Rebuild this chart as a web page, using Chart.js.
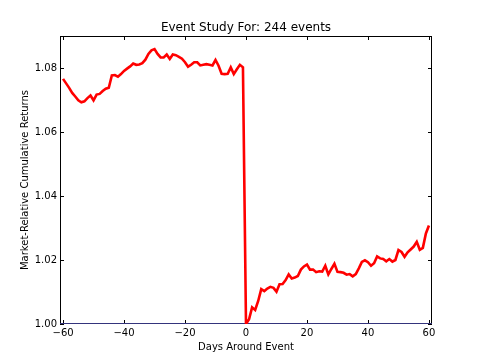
<!DOCTYPE html>
<html>
<head>
<meta charset="utf-8">
<script src="https://cdn.jsdelivr.net/npm/chart.js@4"></script>
<style>
  body { margin: 0; background: #fff; }
  #wrap { width: 480px; height: 360px; }
</style>
</head>
<body>
<div id="wrap"><canvas id="myChart" width="480" height="360"></canvas></div>
<script>
const days = [
  -60, -59, -58, -57, -56, -55, -54, -53, -52, -51, -50, -49, -48, -47, -46, -45, -44, -43, -42, -41,
  -40, -39, -38, -37, -36, -35, -34, -33, -32, -31, -30, -29, -28, -27, -26, -25, -24, -23, -22, -21,
  -20, -19, -18, -17, -16, -15, -14, -13, -12, -11, -10, -9, -8, -7, -6, -5, -4, -3, -2, -1,
  0, 1, 2, 3, 4, 5, 6, 7, 8, 9, 10, 11, 12, 13, 14, 15, 16, 17, 18, 19,
  20, 21, 22, 23, 24, 25, 26, 27, 28, 29, 30, 31, 32, 33, 34, 35, 36, 37, 38, 39,
  40, 41, 42, 43, 44, 45, 46, 47, 48, 49, 50, 51, 52, 53, 54, 55, 56, 57, 58, 59, 60
];

const cumReturns = [
  1.0766, 1.0752, 1.0738, 1.0722, 1.0711, 1.0699, 1.0693, 1.0696, 1.0706, 1.0714,
  1.0699, 1.0717, 1.0719, 1.0728, 1.0735, 1.0738, 1.0777, 1.0778, 1.0773, 1.0781,
  1.0791, 1.0798, 1.0805, 1.0814, 1.0810, 1.0811, 1.0815, 1.0826, 1.0844, 1.0855,
  1.0859, 1.0844, 1.0833, 1.0833, 1.0842, 1.0828, 1.0842, 1.0840, 1.0835, 1.0829,
  1.0818, 1.0804, 1.0810, 1.0818, 1.0818, 1.0808, 1.0810, 1.0812, 1.0810, 1.0808,
  1.0825, 1.0807, 1.0782, 1.0781, 1.0782, 1.0802, 1.0781, 1.0796, 1.0810, 1.0802,
  1.0000, 1.0015, 1.0052, 1.0044, 1.0072, 1.0109, 1.0103, 1.0111, 1.0116, 1.0113,
  1.0101, 1.0124, 1.0125, 1.0137, 1.0155, 1.0142, 1.0145, 1.0150, 1.0170, 1.0180,
  1.0186, 1.0170, 1.0170, 1.0162, 1.0165, 1.0164, 1.0182, 1.0155, 1.0172, 1.0188,
  1.0163, 1.0162, 1.0160, 1.0154, 1.0156, 1.0149, 1.0156, 1.0174, 1.0194, 1.0199,
  1.0193, 1.0182, 1.0190, 1.0211, 1.0205, 1.0203, 1.0196, 1.0203, 1.0195, 1.0200,
  1.0231, 1.0225, 1.0210, 1.0224, 1.0233, 1.0242, 1.0257, 1.0232, 1.0238, 1.0283, 1.0308
];

// horizontal reference line at 1.0
const baseX = [-61, 61];
const baseY = [1.0, 1.0];

const xTicks = [-60, -40, -20, 0, 20, 40, 60];
const yTicks = [1.00, 1.02, 1.04, 1.06, 1.08];

const chartTitle = 'Event Study For: 244 events';
const FONT = "'DejaVu Sans', sans-serif";

// matplotlib-style frame with inward ticks on all sides, title centred over the axes
const framePlugin = {
  id: 'frame',
  beforeDatasetsDraw(chart) {
    const { ctx, chartArea: a, scales: { x, y } } = chart;
    ctx.save();
    ctx.strokeStyle = '#000';
    ctx.lineWidth = 1;
    ctx.strokeRect(a.left + 0.5, a.top + 0.5, a.right - a.left - 1, a.bottom - a.top - 1);
    ctx.beginPath();
    x.ticks.forEach(t => {
      const px = Math.round(x.getPixelForValue(t.value)) + 0.5;
      ctx.moveTo(px, a.bottom); ctx.lineTo(px, a.bottom - 4);
      ctx.moveTo(px, a.top); ctx.lineTo(px, a.top + 4);
    });
    y.ticks.forEach(t => {
      const py = Math.round(y.getPixelForValue(t.value)) + 0.5;
      ctx.moveTo(a.left, py); ctx.lineTo(a.left + 4, py);
      ctx.moveTo(a.right, py); ctx.lineTo(a.right - 4, py);
    });
    ctx.stroke();

    ctx.fillStyle = '#000';
    ctx.font = '12px ' + FONT;
    ctx.textAlign = 'center';
    ctx.textBaseline = 'middle';
    ctx.fillText(chartTitle, (a.left + a.right) / 2, a.top - 8.5);
    ctx.restore();
  }
};

const data = {
  datasets: [
    {
      label: 'Cumulative Returns',
      data: cumReturns.map((v, i) => ({ x: days[i], y: v })),
      borderColor: '#ff0000',
      borderWidth: 2.6,
      pointRadius: 0,
      tension: 0,
      fill: false,
    },
    {
      label: 'Baseline',
      data: baseX.map((v, i) => ({ x: v, y: baseY[i] })),
      borderColor: '#4646a6',
      borderWidth: 1.5,
      pointRadius: 0,
      fill: false,
    },
  ],
};

const config = {
  type: 'line',
  data: data,
  options: {
    responsive: false,
    animation: false,
    layout: { padding: { left: 0, right: 48, top: 36, bottom: 0 } },
    plugins: {
      legend: { display: false },
      tooltip: { enabled: false },
      title: { display: false },
    },
    scales: {
      x: {
        type: 'linear',
        min: -61,
        max: 61,
        grid: { display: false, drawTicks: false },
        border: { display: false },
        afterBuildTicks: s => { s.ticks = xTicks.map(v => ({ value: v })); },
        afterFit: s => { s.height = 36; },
        ticks: {
          color: '#000',
          padding: 3,
          maxRotation: 0,
          font: { family: FONT, size: 10 },
          callback: v => String(v).replace('-', '\u2212'),
        },
        title: {
          display: true,
          text: 'Days Around Event',
          color: '#000',
          font: { family: FONT, size: 10, lineHeight: 1.2 },
          padding: { top: 2, bottom: 7 },
        },
      },
      y: {
        min: 1.0,
        max: 1.09,
        grid: { display: false, drawTicks: false },
        border: { display: false },
        afterBuildTicks: s => { s.ticks = yTicks.map(v => ({ value: v })); },
        afterFit: s => { s.width = 60; },
        ticks: {
          color: '#000',
          padding: 3,
          font: { family: FONT, size: 10 },
          callback: v => Number(v).toFixed(2),
        },
        title: {
          display: true,
          text: 'Market-Relative Cumulative Returns',
          color: '#000',
          font: { family: FONT, size: 10, lineHeight: 1.2 },
          padding: { top: 19, bottom: 2 },
        },
      },
    },
  },
  plugins: [framePlugin],
};

var myChart = new Chart(document.getElementById('myChart'), config);
</script>
</body>
</html>
